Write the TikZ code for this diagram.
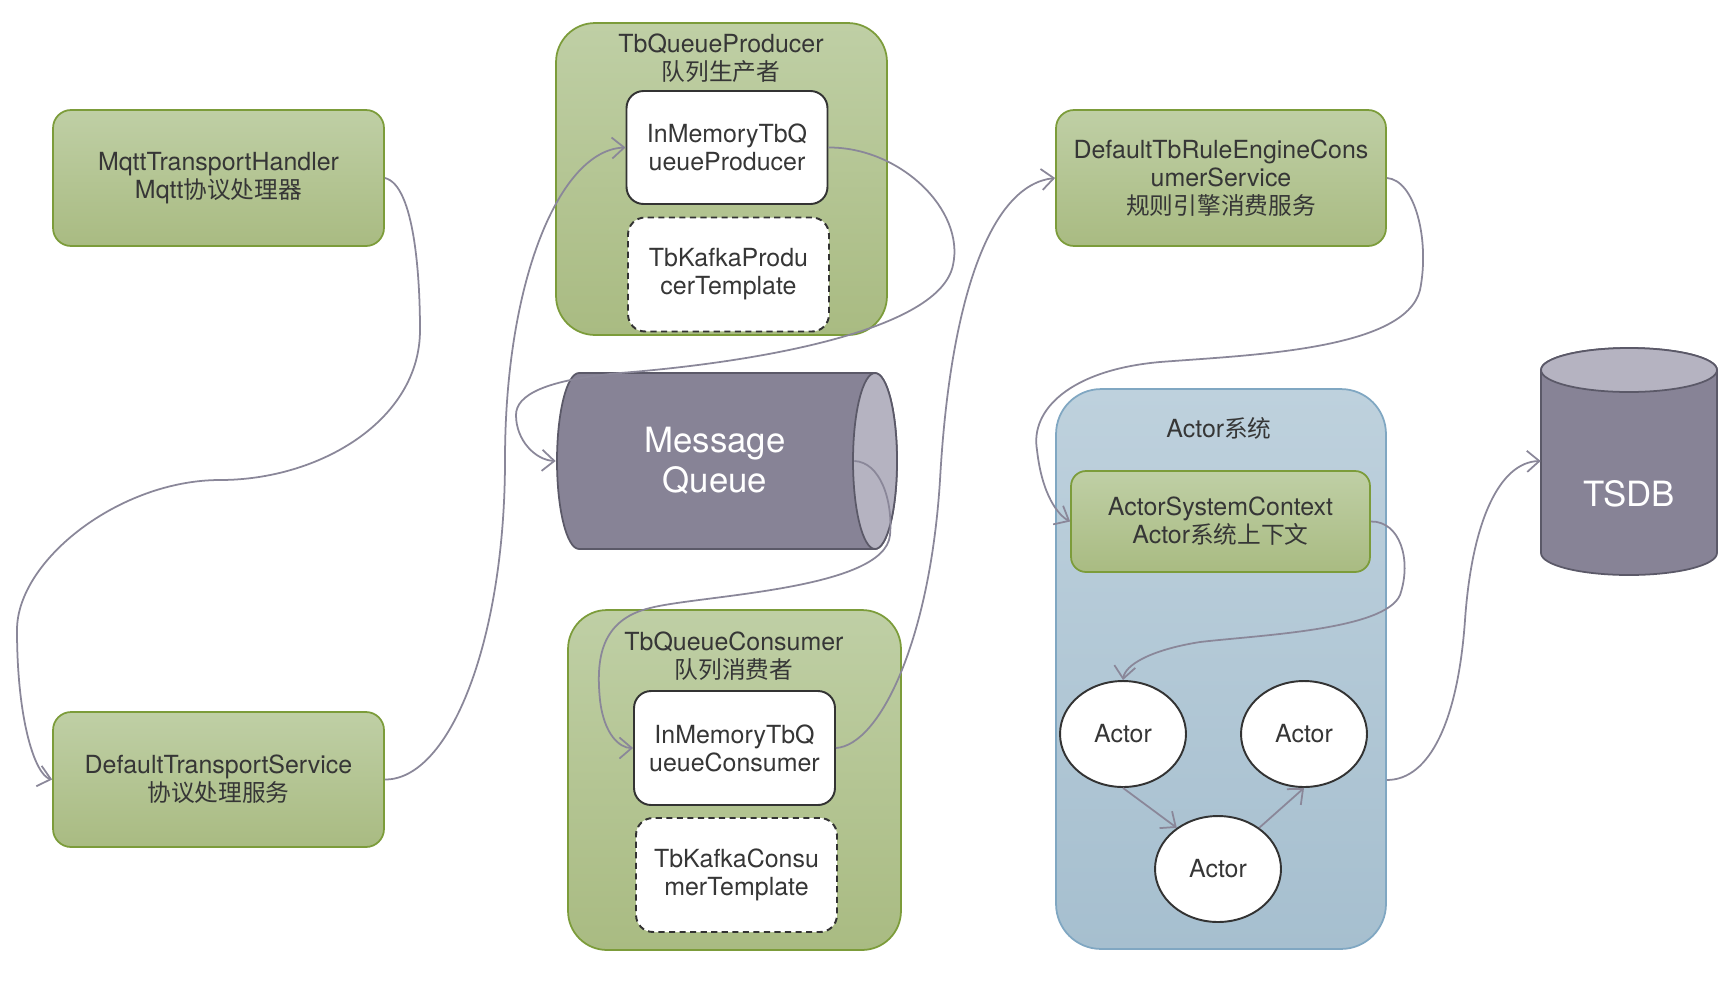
\documentclass[tikz,border=0pt]{standalone}
\usepackage{fontspec}
\setmainfont{TeX Gyre Heros}
\newfontfamily\cjk{Noto Sans CJK SC}[Scale=0.95]
\usetikzlibrary{shapes.geometric,arrows.meta}

\definecolor{greentop}{HTML}{BFCFA5}
\definecolor{greenbot}{HTML}{A9BB82}
\definecolor{greenline}{HTML}{7C9C3A}
\definecolor{bluetop}{HTML}{BED1DD}
\definecolor{bluebot}{HTML}{A6BFCF}
\definecolor{blueline}{HTML}{80A7C2}
\definecolor{mqbody}{HTML}{878396}
\definecolor{mqcap}{HTML}{B5B3C1}
\definecolor{mqline}{HTML}{5B5968}
\definecolor{linkgray}{HTML}{8A8799}
\definecolor{txtgray}{HTML}{363636}
\definecolor{boxline}{HTML}{333333}

\begin{document}
\begin{tikzpicture}[x=0.02cm,y=-0.02cm,
  font=\fontsize{14.2}{16}\selectfont,
  >={Straight Barb[length=7pt,width=12pt]},
  greenbox/.style={draw=greenline,line width=1pt,top color=greentop,bottom color=greenbot,
    rounded corners=0.36cm,align=center,text=txtgray,inner sep=0pt},
  group/.style={greenbox,rounded corners=0.78cm},
  membox/.style={draw=boxline,line width=1.1pt,fill=white,rounded corners=0.34cm,align=center,
    text=txtgray,minimum width=4.02cm,minimum height=2.28cm,inner sep=0pt},
  kafkabox/.style={membox,dash pattern=on 3.5pt off 2.5pt},
  actor/.style={ellipse,draw=boxline,line width=1.1pt,fill=white,minimum width=2.52cm,
    minimum height=2.12cm,text=txtgray,inner sep=0pt},
  drum/.style={draw=mqline,line width=1pt},
  bigtext/.style={text=white,font=\fontsize{19.8}{23}\selectfont,align=center,inner sep=0pt},
  link/.style={->,draw=linkgray,line width=1pt}]

  \fill[white] (0,0) rectangle (1730,988);
  \useasboundingbox (0,0) rectangle (1730,988);

  % Transport side
  \node (mqtt) [greenbox,minimum width=6.62cm,minimum height=2.72cm] at (218.5,178)
    {MqttTransportHandler\\Mqtt{\cjk 协议处理器}};
  \node (dts) [greenbox,minimum width=6.62cm,minimum height=2.7cm] at (218.5,779.5)
    {DefaultTransportService\\{\cjk 协议处理服务}};

  % Producer
  \node (prodbox) [group,minimum width=6.62cm,minimum height=6.24cm] at (721.5,179) {};
  \node (prodtitle) [align=center,text=txtgray] at (721,58) {TbQueueProducer\\{\cjk 队列生产者}};
  \node (memprod) [membox,minimum height=2.26cm] at (727,147.5) {InMemoryTbQ\\ueueProducer};
  \node (kafkaprod) [kafkabox] at (728.5,274.5) {TbKafkaProdu\\cerTemplate};

  % Message queue
  \draw[drum,fill=mqbody] (875,373) -- (579,373)
    arc[start angle=90,end angle=270,x radius=0.44cm,y radius=1.76cm] -- (875,549)
    arc[start angle=-90,end angle=90,x radius=0.44cm,y radius=1.76cm] -- cycle;
  \draw[drum,fill=mqcap] (875,461) ellipse [x radius=0.44cm,y radius=1.76cm];
  \node (mq) [bigtext,minimum width=6.36cm,minimum height=3.52cm] at (715,461) {Message\\Queue};

  % Consumer
  \node (consbox) [group,minimum width=6.66cm,minimum height=6.8cm] at (734.5,780) {};
  \node (constitle) [align=center,text=txtgray] at (734,656) {TbQueueConsumer\\{\cjk 队列消费者}};
  \node (memcons) [membox] at (734.5,748) {InMemoryTbQ\\ueueConsumer};
  \node (kafkacons) [kafkabox] at (736.5,875) {TbKafkaConsu\\merTemplate};

  % Rule engine
  \node (rule) [greenbox,minimum width=6.6cm,minimum height=2.72cm] at (1221,178)
    {DefaultTbRuleEngineCons\\umerService\\{\cjk 规则引擎消费服务}};

  % Actor system
  \node (actorsys) [greenbox,draw=blueline,top color=bluetop,bottom color=bluebot,
    rounded corners=0.9cm,minimum width=6.6cm,minimum height=11.2cm] at (1221,669) {};
  \node (actortitle) [text=txtgray] at (1219,428) {Actor{\cjk 系统}};
  \node (ctx) [greenbox,rounded corners=0.3cm,minimum width=5.98cm,minimum height=2.02cm] at (1220.5,521.5)
    {ActorSystemContext\\Actor{\cjk 系统上下文}};
  \node (actor1) [actor] at (1123,734) {Actor};
  \node (actor2) [actor] at (1304,734) {Actor};
  \node (actor3) [actor] at (1218,869) {Actor};

  % TSDB
  \draw[drum,fill=mqbody] (1541,370) -- (1541,553)
    arc[start angle=180,end angle=360,x radius=1.76cm,y radius=0.44cm] -- (1717,370)
    arc[start angle=0,end angle=180,x radius=1.76cm,y radius=0.44cm] -- cycle;
  \draw[drum,fill=mqcap] (1629,370) ellipse [x radius=1.76cm,y radius=0.44cm];
  \node (tsdb) [minimum width=3.52cm,minimum height=4.52cm,inner sep=0pt] at (1629,461) {};
  \node (tsdblabel) [bigtext] at (1629,494) {TSDB};

  % Links
  \draw[link] (mqtt.east) .. controls (415,185) and (420,280) .. (420,330)
    .. controls (420,420) and (320,480) .. (220,480)
    .. controls (120,480) and (17,560) .. (17,630)
    .. controls (17,720) and (35,775) .. (dts.west);
  \draw[link] (dts.east) .. controls (450,780) and (505,640) .. (505,460)
    .. controls (505,280) and (560,150) .. (memprod.west);
  \draw[link] (memprod.east) .. controls (900,147) and (965,210) .. (953,265)
    .. controls (940,330) and (760,362) .. (620,373)
    .. controls (545,380) and (516,395) .. (516,415)
    .. controls (516,440) and (535,460) .. (mq.west);
  \draw[link] ([xshift=-0.4cm]mq.east) .. controls (880,462) and (893,500) .. (890,535)
    .. controls (885,590) and (700,595) .. (650,608)
    .. controls (600,620) and (596,660) .. (600,700)
    .. controls (604,735) and (620,748) .. (memcons.west);
  \draw[link] (memcons.east) .. controls (880,745) and (930,640) .. (940,480)
    .. controls (950,300) and (990,185) .. (rule.west);
  \draw[link] (rule.east) .. controls (1415,180) and (1430,240) .. (1420,290)
    .. controls (1405,350) and (1250,355) .. (1160,362)
    .. controls (1070,370) and (1030,410) .. (1037,450)
    .. controls (1042,495) and (1058,515) .. (ctx.west);
  \draw[link] (ctx.east) .. controls (1400,521) and (1412,560) .. (1400,595)
    .. controls (1385,630) and (1260,635) .. (1200,642)
    .. controls (1150,650) and (1125,665) .. (actor1.north);
  \draw[link] (actor1.south) -- (actor3.135);
  \draw[link] (actor3.45) -- (actor2.south);
  \draw[link] ([yshift=-2.22cm]actorsys.east) .. controls (1430,780) and (1458,720) .. (1465,620)
    .. controls (1472,520) and (1500,462) .. (tsdb.west);
\end{tikzpicture}
\end{document}
